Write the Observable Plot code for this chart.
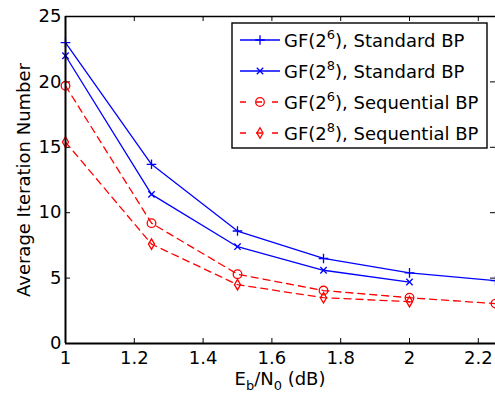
<!DOCTYPE html>
<html><head><meta charset="utf-8">
<script src="https://cdn.jsdelivr.net/npm/d3@7"></script>
<script src="https://cdn.jsdelivr.net/npm/@observablehq/plot@0.6"></script>
<style>body{margin:0;background:#fff;}</style>
</head><body><div id="chart"></div>
<script>
const ebn0 = [1, 1.25, 1.5, 1.75, 2, 2.25];
const gf6Standard = [23.0, 13.7, 8.6, 6.5, 5.4, 4.8];
const gf8Standard = [22.0, 11.4, 7.4, 5.6, 4.7];
const gf6Sequential = [19.7, 9.2, 5.3, 4.05, 3.5, 3.05];
const gf8Sequential = [15.4, 7.6, 4.5, 3.5, 3.2];
const seriesPower = ["6", "8", "6", "8"];
const seriesDecoder = ["Standard BP", "Standard BP", "Sequential BP", "Sequential BP"];
const seriesColors = ["#0000ff", "#0000ff", "#ff0000", "#ff0000"];
const seriesSymbols = ["plus", "times", "circle", "diamond"];
const seriesR = [3.2, 3, 4.3, 3.2];
const seriesDash = [null, null, "7,5", "7,5"];
const xTicks = [1, 1.2, 1.4, 1.6, 1.8, 2, 2.2];
const xTickLabels = ["1", "1.2", "1.4", "1.6", "1.8", "2", "2.2"];
const yTicks = [0, 5, 10, 15, 20, 25];
const yTickLabels = ["0", "5", "10", "15", "20", "25"];
const xLabelMain = ["E", "b", "/N", "0", " (dB)"];
const yLabel = "Average Iteration Number";

const allSeries = [gf6Standard, gf8Standard, gf6Sequential, gf8Sequential];
const rows = [];
allSeries.forEach((vals, s) => vals.forEach((v, i) => rows.push({s, x: ebn0[i], y: v})));

const symbolMap = {plus: d3.symbolPlus, times: d3.symbolTimes, circle: d3.symbolCircle, diamond: d3.symbolDiamond};

const W = 495, H = 396, mL = 65, mR = 0, mT = 16, mB = 53;
const plotW = W - mL - mR, plotH = H - mT - mB, tick = 5;

const marks = [
  Plot.ruleY([25], {stroke: "black", strokeWidth: 1.3}),
  Plot.tickX(xTicks, {x: d => d, stroke: "black", strokeWidth: 1, insetTop: plotH - tick}),
  Plot.tickX(xTicks, {x: d => d, stroke: "black", strokeWidth: 1, insetBottom: plotH - tick}),
  Plot.tickY(yTicks, {y: d => d, stroke: "black", strokeWidth: 1, insetRight: plotW - tick}),
  Plot.tickY(yTicks, {y: d => d, stroke: "black", strokeWidth: 1, insetLeft: plotW - tick}),
  Plot.axisX({ticks: xTicks, tickSize: 0, tickPadding: 8, tickFormat: (d, i) => xTickLabels[i], label: null}),
  Plot.axisY({ticks: yTicks, tickSize: 0, tickPadding: 4, tickFormat: (d, i) => yTickLabels[i], label: null}),
];
allSeries.forEach((vals, s) => {
  const data = rows.filter(r => r.s === s);
  marks.push(Plot.line(data, {x: "x", y: "y", stroke: seriesColors[s], strokeWidth: 1.3, strokeDasharray: seriesDash[s]}));
  marks.push(Plot.dot(data, {x: "x", y: "y", stroke: seriesColors[s], strokeWidth: 1.3, fill: "none", symbol: seriesSymbols[s], r: seriesR[s]}));
});
marks.push(Plot.ruleX([1], {stroke: "black", strokeWidth: 2}));
marks.push(Plot.ruleY([0], {stroke: "black", strokeWidth: 2}));

const chart = Plot.plot({
  width: W, height: H,
  marginLeft: mL, marginRight: mR, marginTop: mT, marginBottom: mB,
  x: {domain: [1, 2.25], label: null},
  y: {domain: [0, 25], label: null},
  style: {fontFamily: "DejaVu Sans", fontSize: "18px", background: "white", color: "black", overflow: "hidden"},
  marks
});
document.getElementById("chart").appendChild(chart);

const svg = d3.select(chart);
// x label with subscripts
const xl = svg.append("text").attr("x", 280).attr("y", 385).attr("text-anchor", "middle").attr("fill", "black").style("font-size", "18px");
xLabelMain.forEach((t, i) => {
  const sub = i === 1 || i === 3;
  xl.append("tspan").text(t).style("font-size", sub ? "13px" : "18px").attr("dy", sub ? 5 : (i > 0 ? -5 : 0));
});
// y label
svg.append("text").attr("transform", "translate(30,180) rotate(-90)").attr("text-anchor", "middle").attr("fill", "black").style("font-size", "18px").text(yLabel);

// legend
const lg = svg.append("g").attr("text-anchor", "start");
lg.append("rect").attr("x", 232).attr("y", 23).attr("width", 255).attr("height", 125).attr("fill", "white").attr("stroke", "black").attr("stroke-width", 1.4);
const rowY = [40, 71, 102, 133];
seriesPower.forEach((p, s) => {
  const y = rowY[s];
  lg.append("line").attr("x1", 240).attr("x2", 280).attr("y1", y).attr("y2", y).attr("stroke", seriesColors[s]).attr("stroke-width", 1.3).attr("stroke-dasharray", seriesDash[s] ? "6,10" : null);
  lg.append("path").attr("transform", `translate(260,${y})`).attr("d", d3.symbol(symbolMap[seriesSymbols[s]], Math.PI * seriesR[s] * seriesR[s])()).attr("fill", "none").attr("stroke", seriesColors[s]).attr("stroke-width", 1.3);
  const t = lg.append("text").attr("x", 284).attr("y", y + 7).attr("text-anchor", "start").attr("fill", "black").style("font-size", "18px");
  t.append("tspan").text("GF(2");
  t.append("tspan").text(p).style("font-size", "13px").attr("dy", -8);
  t.append("tspan").text("), " + seriesDecoder[s]).attr("dy", 8);
});
</script></body></html>
